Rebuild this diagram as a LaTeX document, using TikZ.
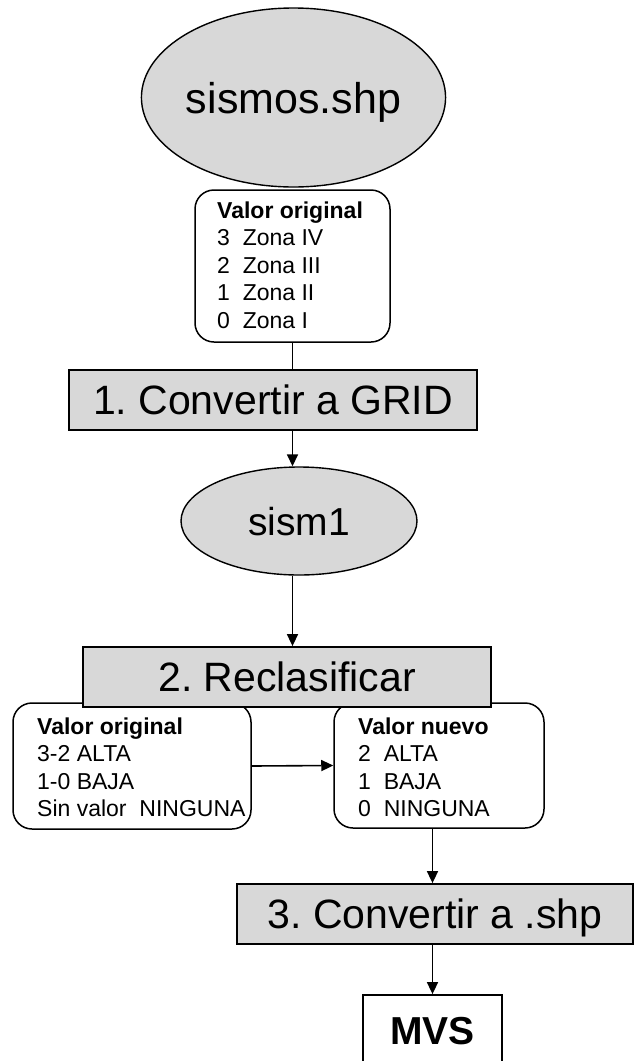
\documentclass[tikz,border=0pt]{standalone}
\usepackage{fontspec}
\setmainfont{Liberation Sans}
\usetikzlibrary{shapes.geometric,arrows.meta}
\definecolor{boxgray}{RGB}{216,216,216}
\tikzset{
  conn/.style={line width=1.6pt, draw=black},
  arr/.style={conn, -{Triangle[length=12pt,width=11pt]}},
  datum/.style={ellipse, draw=black, line width=1.4pt, fill=boxgray, inner sep=0pt, text depth=0pt},
  stepbox/.style={rectangle, draw=black, line width=1.8pt, fill=boxgray, inner sep=0pt,
    font=\fontsize{41}{48}\selectfont, text depth=0pt},
  tablebox/.style={rectangle, rounded corners=19pt, draw=black, line width=1.5pt, fill=white, inner sep=0pt},
  tabletext/.style={anchor=base west, inner sep=0pt, font=\fontsize{23}{27.5}\selectfont},
  resultbox/.style={rectangle, draw=black, line width=1.8pt, fill=white, inner sep=0pt,
    font=\bfseries\fontsize{39}{46}\selectfont, text depth=0pt}
}
\begin{document}
\frenchspacing
\begin{tikzpicture}[x=1pt, y=-1pt]
\useasboundingbox (0,0) rectangle (635,1061);
\clip (0,0) rectangle (635,1061);

% input layer
\node[datum, minimum width=223pt, minimum height=179pt, font=\fontsize{43}{50}\selectfont]
  (shp) at (293.5,97.5) {sismos.shp};

% original values of the input layer
\node[tablebox, minimum width=195pt, minimum height=152pt] (vo) at (292.5,266) {};
\node[tabletext] (votext) at (217,218)
  {\begin{tabular}[t]{@{}l@{}}\textbf{Valor original}\\3\ \ Zona IV\\2\ \ Zona III\\1\ \ Zona II\\0\ \ Zona I\end{tabular}};

% step 1
\node[stepbox, minimum width=408pt, minimum height=60pt] (b1) at (273,400) {1. Convertir a GRID};

% intermediate grid
\node[datum, minimum width=236pt, minimum height=108pt, font=\fontsize{39}{46}\selectfont]
  (s1) at (299,521) {sism1};

% reclassification tables
\node[tablebox, minimum width=238pt, minimum height=126pt] (lo) at (132,766) {};
\node[tabletext] (lotext) at (37,734)
  {\begin{tabular}[t]{@{}l@{}}\textbf{Valor original}\\3-2 ALTA\\1-0 BAJA\\Sin valor\ \ NINGUNA\end{tabular}};
\node[tablebox, minimum width=210pt, minimum height=125pt] (nv) at (439,765.5) {};
\node[tabletext] (nvtext) at (358,734)
  {\begin{tabular}[t]{@{}l@{}}\textbf{Valor nuevo}\\2\ \ ALTA\\1\ \ BAJA\\0\ \ NINGUNA\end{tabular}};

% step 2 (drawn over the tables' upper edges)
\node[stepbox, minimum width=408pt, minimum height=60pt] (b2) at (287,677) {2. Reclasificar};

% step 3
\node[stepbox, minimum width=396pt, minimum height=60pt] (b3) at (435,914) {3. Convertir a .shp};

% result
\node[resultbox, minimum width=139pt, minimum height=72pt] (mvs) at (432.5,1031) {MVS};

% connectors
\draw[conn] (vo.south) -- (vo.south |- b1.north);
\draw[arr] (vo.south |- b1.south) -- (vo.south |- s1.north);
\draw[arr] (vo.south |- s1.south) -- (vo.south |- b2.north);
\draw[arr] (lo.east) -- (nv.west);
\draw[arr] (mvs.north |- nv.south) -- (mvs.north |- b3.north);
\draw[arr] (mvs.north |- b3.south) -- (mvs.north);
\end{tikzpicture}
\end{document}
